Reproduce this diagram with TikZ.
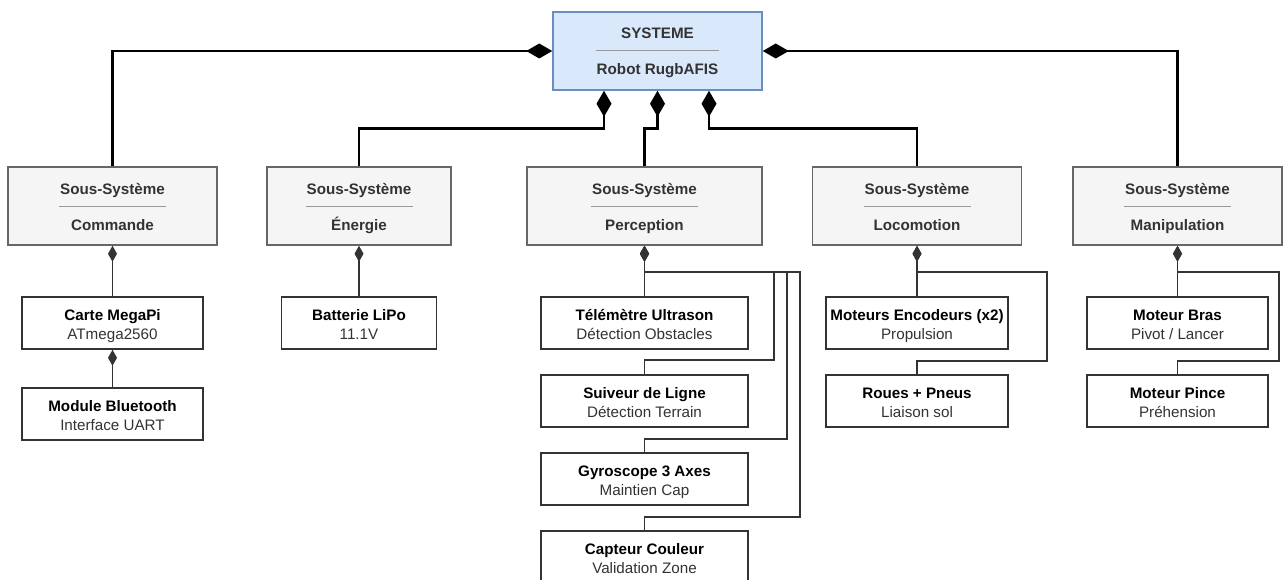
\documentclass[tikz,border=0pt]{standalone}
\usepackage{fontspec}
\setmainfont{Liberation Sans}
\usetikzlibrary{arrows.meta}
\definecolor{sysfill}{HTML}{DAE8FC}
\definecolor{sysdraw}{HTML}{6C8EBF}
\definecolor{subfill}{HTML}{F5F5F5}
\definecolor{subdraw}{HTML}{666666}
\definecolor{txt}{HTML}{333333}
\definecolor{sepgray}{HTML}{999999}

% sub-system box: name, x centre, width, label
\newcommand\subsys[4]{%
  \node[subbox, minimum width=#3] (#1) at (#2,206) {};
  \node[lbl, anchor=base] (#1-t) at ([yshift=12pt]#1.center) {Sous-Système};
  \draw[seprule] ([xshift=-53.5pt]#1.center) -- ([xshift=53.5pt]#1.center);
  \node[lbl, anchor=base] (#1-n) at ([yshift=-24pt]#1.center) {#4};
}
% component box: name, x centre, y centre, width, title, detail
\newcommand\leafbox[6]{%
  \node[leaf, minimum width=#4] (#1) at (#2,#3) {};
  \node[anchor=base, text=black, font=\fontsize{15.2}{18}\selectfont\bfseries] (#1-t) at ([yshift=2.3pt]#1.center) {#5};
  \node[anchor=base, text=txt] (#1-d) at ([yshift=-16.3pt]#1.center) {#6};
}

\begin{document}
\begin{tikzpicture}[x=1pt,y=-1pt,
  every node/.style={font=\fontsize{15.2}{18}\selectfont, inner sep=0pt},
  sysbox/.style={draw=sysdraw, fill=sysfill, line width=1.5pt, minimum width=209pt, minimum height=78pt},
  subbox/.style={draw=subdraw, fill=subfill, line width=1.5pt, minimum height=78pt},
  leaf/.style={draw=txt, fill=white, line width=1.6pt, minimum height=52pt},
  lbl/.style={text=txt, font=\fontsize{15.2}{18}\selectfont\bfseries},
  seprule/.style={draw=sepgray, line width=1pt},
  major/.style={line width=2.6pt, draw=black, {Diamond[length=26pt,width=15pt]}-},
  minor/.style={line width=1.8pt, draw=txt, {Diamond[length=16pt,width=9pt]}-},
]
\useasboundingbox (0,0) rectangle (1284,580);

% system
\node[sysbox] (sys) at (657.5,51) {};
\node[lbl, anchor=base] (sys-t) at ([yshift=12pt]sys.center) {SYSTEME};
\draw[seprule] ([xshift=-61.5pt]sys.center) -- ([xshift=61.5pt]sys.center);
\node[lbl, anchor=base] (sys-n) at ([yshift=-24pt]sys.center) {Robot RugbAFIS};

% sub-systems
\subsys{cmd}{112.5}{209pt}{Commande}
\subsys{ener}{359}{184pt}{Énergie}
\subsys{perc}{644.5}{235pt}{Perception}
\subsys{loco}{917}{209pt}{Locomotion}
\subsys{manip}{1177.5}{209pt}{Manipulation}

% components
\leafbox{carte}{112.5}{323}{181pt}{Carte MegaPi}{ATmega2560}
\leafbox{bt}{112.5}{414}{181pt}{Module Bluetooth}{Interface UART}
\leafbox{bat}{359}{323}{155pt}{Batterie LiPo}{11.1V}
\leafbox{tele}{644.5}{323}{207pt}{Télémètre Ultrason}{Détection Obstacles}
\leafbox{suiv}{644.5}{401}{207pt}{Suiveur de Ligne}{Détection Terrain}
\leafbox{gyro}{644.5}{479}{207pt}{Gyroscope 3 Axes}{Maintien Cap}
\leafbox{coul}{644.5}{557}{207pt}{Capteur Couleur}{Validation Zone}
\leafbox{mot}{917}{323}{182pt}{Moteurs Encodeurs (x2)}{Propulsion}
\leafbox{roue}{917}{401}{182pt}{Roues + Pneus}{Liaison sol}
\leafbox{bras}{1177.5}{323}{181pt}{Moteur Bras}{Pivot / Lancer}
\leafbox{pince}{1177.5}{401}{181pt}{Moteur Pince}{Préhension}

% system -> sub-systems
\draw[major] (sys.west) -| (cmd.north);
\draw[major] ([xshift=-53.5pt]sys.south) -- ++(0,38) -| (ener.north);
\draw[major] (sys.south) -- ++(0,38) -| (perc.north);
\draw[major] ([xshift=51.5pt]sys.south) -- ++(0,38) -| (loco.north);
\draw[major] (sys.east) -| (manip.north);

% sub-systems -> components
\draw[minor] (cmd.south) -- (carte.north);
\draw[minor] (carte.south) -- (bt.north);
\draw[minor] (ener.south) -- (bat.north);

\draw[minor] (perc.south) -- (tele.north);
\draw[minor] (perc.south) -- ++(0,26) -| ([shift={(129.5pt,14pt)}]suiv.north) -| (suiv.north);
\draw[minor] (perc.south) -- ++(0,26) -| ([shift={(142.5pt,13pt)}]gyro.north) -| (gyro.north);
\draw[minor] (perc.south) -- ++(0,26) -| ([shift={(155.5pt,13pt)}]coul.north) -| (coul.north);

\draw[minor] (loco.south) -- (mot.north);
\draw[minor] (loco.south) -- ++(0,26.5) -| ([shift={(130pt,13pt)}]roue.north) -| (roue.north);

\draw[minor] (manip.south) -- (bras.north);
\draw[minor] (manip.south) -- ++(0,26.5) -| ([shift={(101.5pt,13pt)}]pince.north) -| (pince.north);
\end{tikzpicture}
\end{document}
